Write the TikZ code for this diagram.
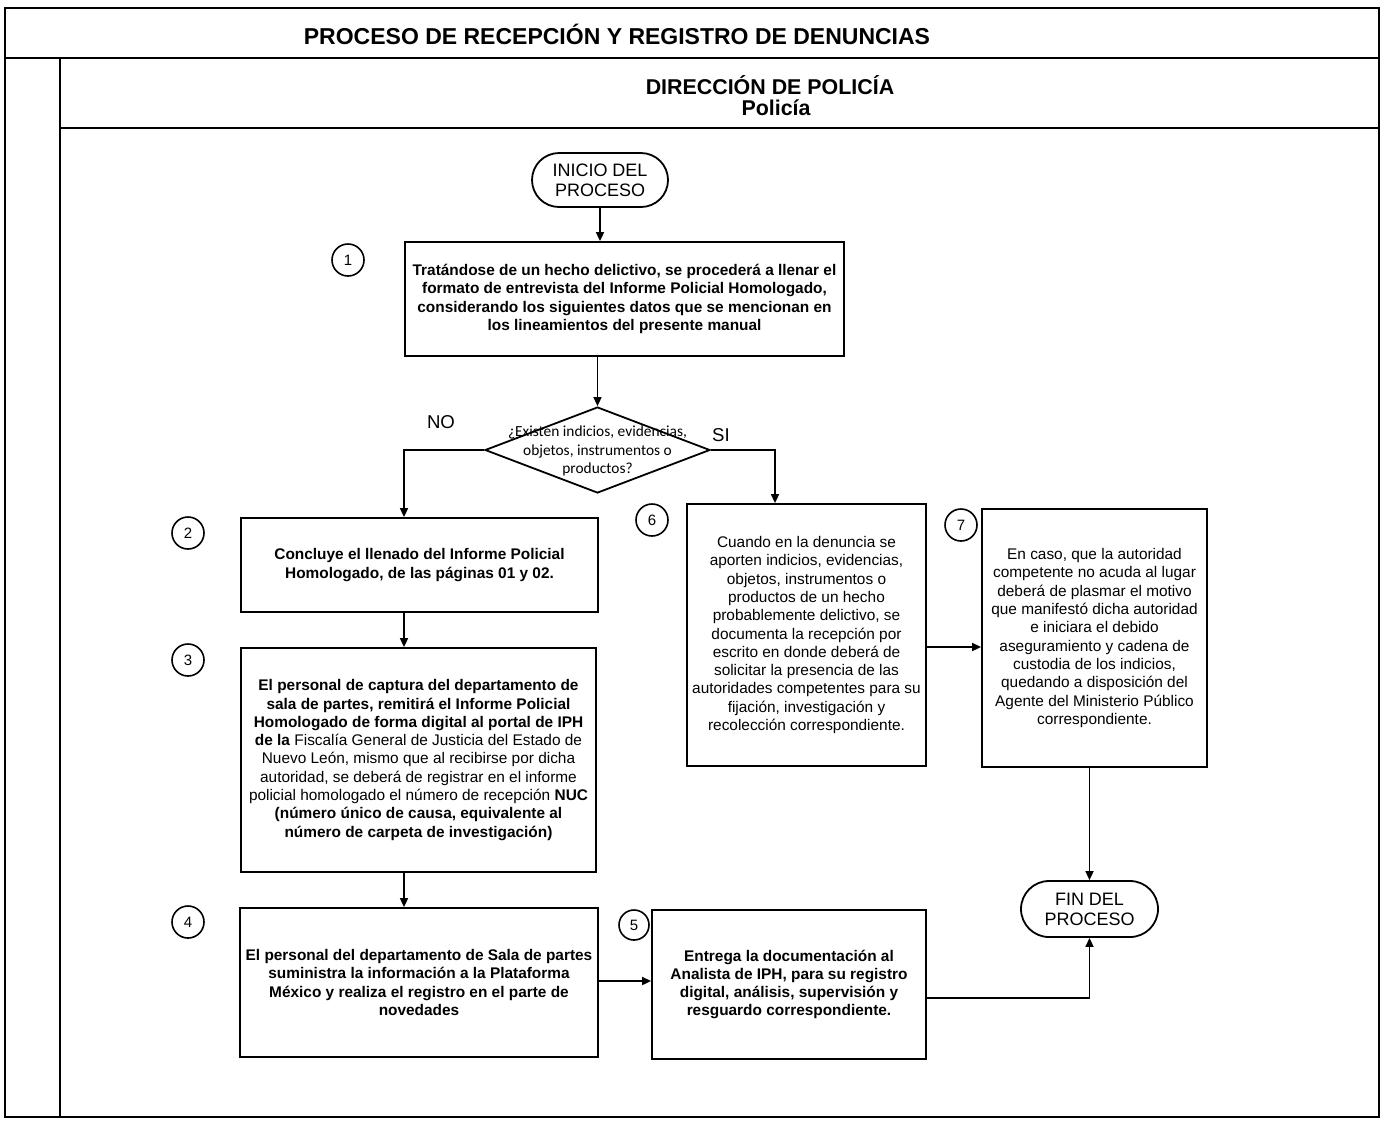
\documentclass[tikz,border=0pt]{standalone}
\usepackage{fontspec}
\setmainfont{Liberation Sans}
\newfontfamily\calib{Carlito}
\usetikzlibrary{arrows.meta,shapes.geometric,shapes.misc}
\begin{document}
\begin{tikzpicture}[x=0.5pt,y=-0.5pt,
 box/.style={draw,line width=0.9pt,align=center,inner sep=2pt,font=\fontsize{7.7}{9.15}\selectfont},
 term/.style={draw,line width=0.9pt,rounded rectangle,align=center,font=\fontsize{9}{10}\selectfont,inner sep=0pt},
 num/.style={draw,circle,line width=0.8pt,minimum size=16pt,inner sep=0pt,font=\fontsize{7.5}{9}\selectfont},
 arr/.style={line width=0.8pt,-{Triangle[length=4.5pt,width=4pt]}},
 frameline/.style={line width=1.2pt}]
\useasboundingbox (0,0) rectangle (1385,1121);
% frame
\draw[frameline] (5,8) rectangle (1379,1117);
\draw[frameline] (5,58) -- (1379,58);
\draw[frameline] (60,58) -- (60,1117);
\draw[frameline] (60,128) -- (1379,128);
\node[font=\bfseries\fontsize{11.5}{13}\selectfont] (title) at (617,34) {PROCESO DE RECEPCIÓN Y REGISTRO DE DENUNCIAS};
\node[font=\bfseries\fontsize{10.7}{12}\selectfont] (dir) at (770,85) {DIRECCIÓN DE POLICÍA};
\node[font=\bfseries\fontsize{10.7}{12}\selectfont] (pol) at (776,108) {Policía};
% nodes
\node[term,minimum width=68pt,minimum height=27pt] (inicio) at (600,180) {INICIO DEL\\PROCESO};
\node[box,minimum width=219.5pt,minimum height=57pt,font=\bfseries\fontsize{7.7}{9.15}\selectfont] (b1) at (624.5,299)
 {Tratándose de un hecho delictivo, se procederá a llenar el\\formato de entrevista del Informe Policial Homologado,\\considerando los siguientes datos que se mencionan en\\los lineamientos del presente manual};
\node[diamond,draw,line width=0.9pt,minimum width=112.5pt,minimum height=43pt,inner sep=0pt] (dia) at (597.5,450) {};
\node[align=center,font=\calib\fontsize{7.7}{9.25}\selectfont] (diat) at (597.5,451) {¿Existen indicios, evidencias,\\objetos, instrumentos o\\productos?};
\node[font=\fontsize{9.3}{11}\selectfont] (no) at (441,422) {NO};
\node[font=\fontsize{9.3}{11}\selectfont] (si) at (721,435) {SI};
\node[box,minimum width=178.5pt,minimum height=47pt,font=\bfseries\fontsize{7.7}{9.15}\selectfont] (b2) at (419.5,565)
 {Concluye el llenado del Informe Policial\\Homologado, de las páginas 01 y 02.};
\node[box,minimum width=177.5pt,minimum height=112pt] (b3) at (418.5,760)
 {\textbf{El personal de captura del departamento de}\\
  \textbf{sala de partes, remitirá el Informe Policial}\\
  \textbf{Homologado de forma digital al portal de IPH}\\
  \textbf{de la} Fiscalía General de Justicia del Estado de\\
  Nuevo León, mismo que al recibirse por dicha\\
  autoridad, se deberá de registrar en el informe\\
  policial homologado el número de recepción \textbf{NUC}\\
  \textbf{(número único de causa, equivalente al}\\
  \textbf{número de carpeta de investigación)}};
\node[box,minimum width=179pt,minimum height=74.5pt,font=\bfseries\fontsize{7.7}{9.15}\selectfont] (b4) at (419,982.5)
 {El personal del departamento de Sala de partes\\suministra la información a la Plataforma\\México y realiza el registro en el parte de\\novedades};
\node[box,minimum width=137pt,minimum height=74.5pt,font=\bfseries\fontsize{7.7}{9.15}\selectfont] (b5) at (789,984.5)
 {Entrega la documentación al\\Analista de IPH, para su registro\\digital, análisis, supervisión y\\resguardo correspondiente.};
\node[box,minimum width=119.5pt,minimum height=131pt] (b6) at (806.5,635)
 {Cuando en la denuncia se\\aporten indicios, evidencias,\\objetos, instrumentos o\\productos de un hecho\\probablemente delictivo, se\\documenta la recepción por\\escrito en donde deberá de\\solicitar la presencia de las\\autoridades competentes para su\\fijación, investigación y\\recolección correspondiente.};
\node[box,minimum width=112.5pt,minimum height=129pt] (b7) at (1094.5,638)
 {En caso, que la autoridad\\competente no acuda al lugar\\deberá de plasmar el motivo\\que manifestó dicha autoridad\\e iniciara el debido\\aseguramiento y cadena de\\custodia de los indicios,\\quedando a disposición del\\Agente del Ministerio Público\\correspondiente.};
\node[term,minimum width=68.5pt,minimum height=28pt] (fin) at (1089.5,909) {FIN DEL\\PROCESO};
% step numbers
\node[num] (n1) at (348,260) {1};
\node[num] (n2) at (188,533) {2};
\node[num] (n3) at (188,660) {3};
\node[num] (n4) at (188,922) {4};
\node[num,minimum size=15pt] (n5) at (634,925) {5};
\node[num] (n6) at (652,520) {6};
\node[num] (n7) at (961,525) {7};
% helper coordinates
\coordinate (colA) at (404,0);
\coordinate (colB) at (775,0);
\coordinate (rowD) at (0,647);
\coordinate (rowE) at (0,998);
\coordinate (rowF) at (0,981);
% connectors
\draw[arr] (inicio.south) -- (b1.north -| inicio.south);
\draw[arr] (b1.south -| dia.north) -- (dia.north);
\draw[arr] (dia.west) -| (b2.north -| colA);
\draw[arr] (dia.east) -| (b6.north -| colB);
\draw[arr] (b2.south -| colA) -- (b3.north -| colA);
\draw[arr] (b3.south -| colA) -- (b4.north -| colA);
\draw[arr] (b4.east |- rowF) -- (b5.west |- rowF);
\draw[arr] (b5.east |- rowE) -| (fin.south);
\draw[arr] (b6.east |- rowD) -- (b7.west |- rowD);
\draw[arr] (b7.south -| fin.north) -- (fin.north);
\end{tikzpicture}
\end{document}
